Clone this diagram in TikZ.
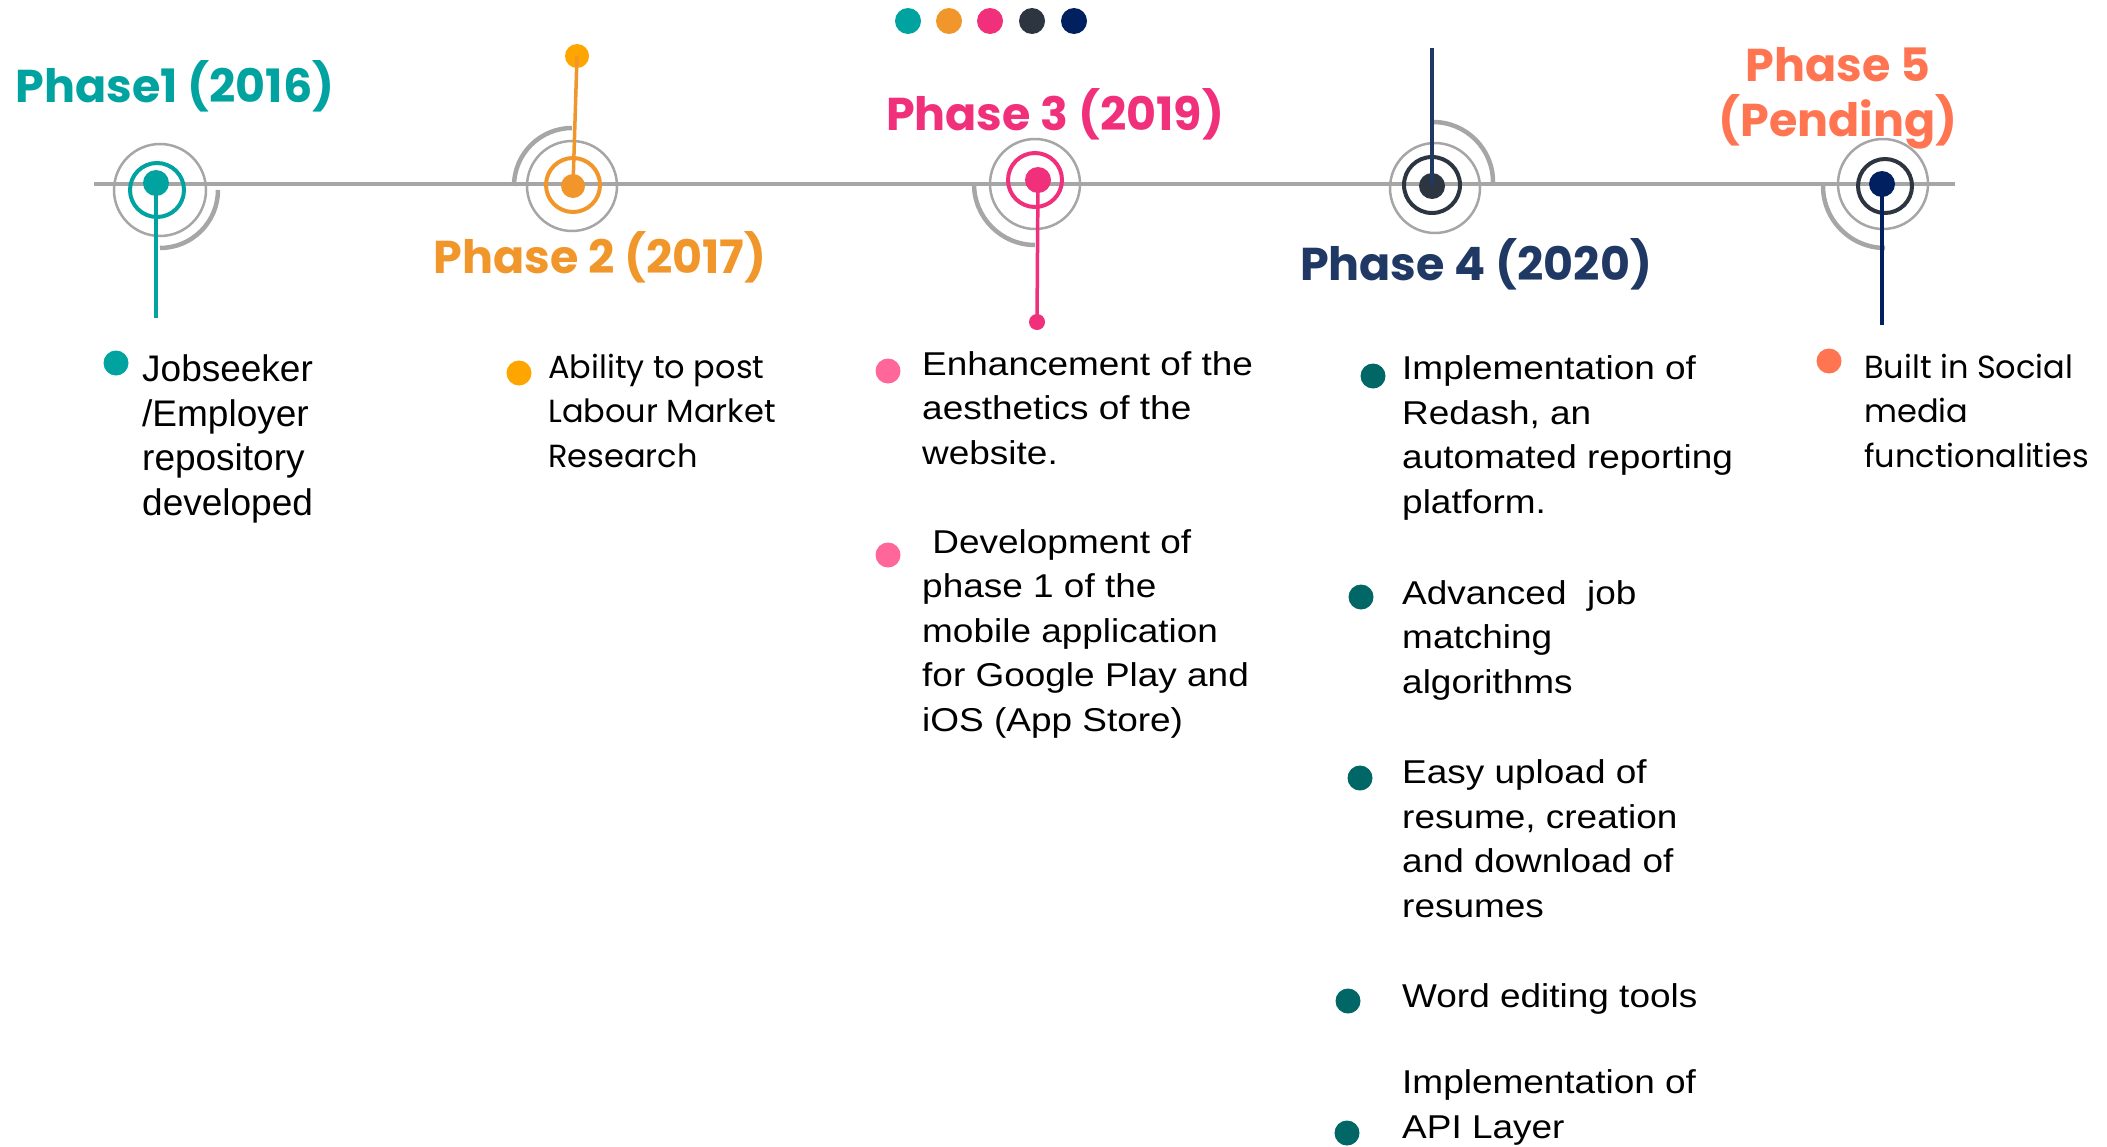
\documentclass[tikz,border=0pt]{standalone}
\usepackage{fontspec}
\setmainfont{Liberation Sans}
\newfontfamily\gothicfont{Poppins}
\newfontfamily\widearial[FakeStretch=1.12]{Liberation Sans}

\definecolor{phteal}{HTML}{00A3A0}
\definecolor{phorange}{HTML}{F0962A}
\definecolor{phamber}{HTML}{FFA500}
\definecolor{phpink}{HTML}{F0307A}
\definecolor{phrose}{HTML}{FF6699}
\definecolor{phslate}{HTML}{2D3540}
\definecolor{phnavy}{HTML}{1F3864}
\definecolor{phdeep}{HTML}{002060}
\definecolor{phcoral}{HTML}{FF7552}
\definecolor{phsea}{HTML}{006666}
\definecolor{phgray}{HTML}{A6A6A6}

\begin{document}
\begin{tikzpicture}[x=1pt,y=-1pt,
    phasedot/.style={circle,inner sep=0pt,minimum size=26pt},
    colring/.style={line width=4pt},
    grayring/.style={draw=phgray,line width=2.5pt},
    grayarc/.style={draw=phgray,line width=4.5pt},
    stemline/.style={line width=3.5pt},
    phasetitle/.style={font=\gothicfont\bfseries\fontsize{46}{55}\selectfont,
        anchor=base,inner sep=0pt,align=center},
    bulletdot/.style={circle,inner sep=0pt,minimum size=25pt},
    itemtext/.style={font=\fontsize{37}{44.5}\selectfont,anchor=base west,
        inner sep=0pt,align=left},
    itemwide/.style={itemtext,font=\widearial\fontsize{33}{44.5}\selectfont},
    itemgothic/.style={itemtext,font=\gothicfont\fontsize{32}{44.5}\selectfont}]

    \useasboundingbox (0,0) rectangle (2107,1146);

    % colour dots at the top
    \node[phasedot,fill=phteal] (top1) at (908,21) {};
    \node[phasedot,fill=phorange] (top2) at (949,21) {};
    \node[phasedot,fill=phpink] (top3) at (990,21) {};
    \node[phasedot,fill=phslate] (top4) at (1032,21) {};
    \node[phasedot,fill=phdeep] (top5) at (1074,21) {};

    % time line
    \coordinate (lstart) at (94,184);
    \coordinate (lend) at (1955,184);
    \draw[phgray,line width=3.5pt] (lstart) -- (lend);

    % halos
    \draw[grayring] (160,190) circle[radius=46pt];
    \draw[grayarc] (160,190) ++(0:58pt) arc[start angle=0,end angle=-90,radius=58pt];
    \draw[grayring] (572,186) circle[radius=45pt];
    \draw[grayarc] (572,186) ++(90:58pt) arc[start angle=90,end angle=180,radius=58pt];
    \draw[grayring] (1035,184) circle[radius=45pt];
    \draw[grayarc] (1035,184) ++(180:61pt) arc[start angle=180,end angle=270,radius=61pt];
    \draw[grayring] (1435,188) circle[radius=45pt];
    \draw[grayarc] (1433,182) ++(0:60pt) arc[start angle=0,end angle=90,radius=60pt];
    \draw[grayring] (1883,184) circle[radius=45pt];
    \draw[grayarc] (1883,186) ++(180:60pt) arc[start angle=180,end angle=270,radius=62pt];

    % coloured rings
    \draw[colring,phteal] (157,190) circle[radius=27pt];
    \draw[colring,phorange] (573,185) circle[radius=27pt];
    \draw[colring,phpink] (1035,180) circle[radius=27pt];
    \draw[colring,phslate] (1432,185) circle[radius=28pt];
    \draw[colring,phslate] (1885,186) circle[radius=27pt];

    % markers
    \node[phasedot,fill=phteal] (p1dot) at (156,183) {};
    \node[phasedot,fill=phorange,minimum size=24pt] (p2dot) at (573,186) {};
    \node[phasedot,fill=phpink] (p3dot) at (1038,180) {};
    \node[phasedot,fill=phslate] (p4dot) at (1432,186) {};
    \node[phasedot,fill=phdeep] (p5dot) at (1882,184) {};

    \coordinate (p1end) at (156,318);
    \node[phasedot,fill=phamber,minimum size=24pt] (p2top) at (577,56) {};
    \node[phasedot,fill=phpink,minimum size=16pt] (p3end) at (1037,322) {};
    \coordinate (p4end) at (1432,48);
    \coordinate (p5end) at (1882,325);

    \draw[stemline,phteal] (p1dot.center) -- (p1end);
    \draw[stemline,phorange] (p2dot.center) -- (p2top.center);
    \draw[stemline,phpink] (p3dot.center) -- (p3end.center);
    \draw[stemline,phnavy] (p4dot.center) -- (p4end);
    \draw[stemline,phdeep] (p5dot.center) -- (p5end);

    % titles (multi-line nodes sit on their last base line)
    \node[phasetitle,text=phteal] (t1) at (175,102) {Phase1 (2016)};
    \node[phasetitle,text=phorange] (t2) at (600,273) {Phase 2 (2017)};
    \node[phasetitle,text=phpink] (t3) at (1055,130) {Phase 3 (2019)};
    \node[phasetitle,text=phnavy] (t4) at (1476,280) {Phase 4 (2020)};
    \node[phasetitle,text=phcoral] (t5) at (1838,136) {Phase 5\\(Pending)};

    % phase 1
    \node[bulletdot,fill=phteal] (b1) at (116,363) {};
    \node[itemtext] (i1) at (142,515) {Jobseeker\\/Employer\\repository\\developed};

    % phase 2
    \node[bulletdot,fill=phamber] (b2) at (519,373) {};
    \node[itemgothic] (i2) at (548,467) {Ability to post\\Labour Market\\Research};

    % phase 3
    \node[bulletdot,fill=phrose] (b3a) at (888,371) {};
    \node[itemwide] (i3a) at (922,464) {Enhancement of the\\aesthetics of the\\website.};
    \node[bulletdot,fill=phrose] (b3b) at (888,555) {};
    \node[itemwide] (i3b) at (922,731) {\ Development of\\phase 1 of the\\mobile application\\for Google Play and\\iOS (App Store)};

    % phase 4
    \node[bulletdot,fill=phsea] (b4a) at (1373,376) {};
    \node[itemwide] (i4a) at (1402,513) {Implementation of\\Redash, an\\automated reporting\\platform.};
    \node[bulletdot,fill=phsea] (b4b) at (1361,597) {};
    \node[itemwide] (i4b) at (1402,693) {Advanced\ \ job\\matching\\algorithms};
    \node[bulletdot,fill=phsea] (b4c) at (1360,778) {};
    \node[itemwide] (i4c) at (1402,917) {Easy upload of\\resume, creation\\and download of\\resumes};
    \node[bulletdot,fill=phsea] (b4d) at (1348,1001) {};
    \node[itemwide] (i4d) at (1402,1007) {Word editing tools};
    \node[bulletdot,fill=phsea] (b4e) at (1347,1133) {};
    \node[itemwide] (i4e) at (1402,1138) {Implementation of\\API Layer};

    % phase 5
    \node[bulletdot,fill=phcoral] (b5) at (1829,361) {};
    \node[itemgothic] (i5) at (1864,467) {Built in Social\\media\\functionalities};
\end{tikzpicture}
\end{document}
